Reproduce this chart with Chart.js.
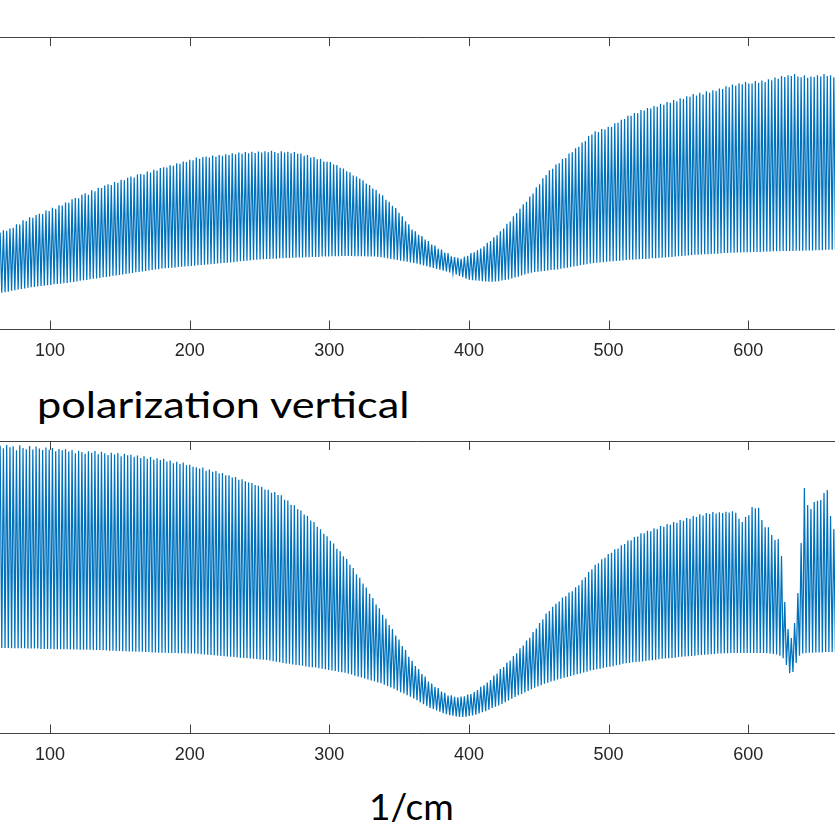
<!DOCTYPE html>
<html>
<head>
<meta charset="utf-8">
<script src="https://cdn.jsdelivr.net/npm/chart.js@4.4.1/dist/chart.umd.min.js"></script>
<style>
  html, body { margin: 0; padding: 0; background: #fff; width: 835px; height: 823px; overflow: hidden; }
  body { position: relative; }
  canvas { position: absolute; left: 0; }
  #c1 { top: 0; }
  #c2 { top: 420px; }
  .lbl { position: absolute; font-family: Lato, "Open Sans", sans-serif; color: #000; white-space: nowrap; margin: 0; padding: 0; transform-origin: 0 0; }
</style>
</head>
<body>
<canvas id="c1" width="835" height="372"></canvas>
<div id="title" class="lbl">polarization vertical</div>
<canvas id="c2" width="835" height="356"></canvas>
<div id="xlabel" class="lbl">1/cm</div>
<script>
// ---- data (wavenumber axis in 1/cm, intensity in arbitrary units 0..100) ----
const xAxisMin = 64.2;
const xAxisMax = 662.1;
const xTickValues = [100, 200, 300, 400, 500, 600];
const firstFringe = 64.3;      // wavenumber of first fringe maximum
const fringeSpacing = 2.341;   // fringe period (1/cm)

// upper panel: fringe maxima and minima
const topPeaks = [
  33.0, 33.8, 33.6, 34.4, 34.7, 35.9, 35.8, 37.2, 37.0, 38.3,
  38.1, 39.0, 39.5, 39.4, 40.6, 40.4, 41.5, 41.2, 42.4, 42.3,
  43.3, 43.2, 44.4, 44.9, 44.8, 46.0, 46.5, 46.0, 47.5, 47.2,
  48.4, 48.3, 49.1, 49.6, 49.3, 50.3, 50.1, 51.1, 50.9, 51.8,
  52.2, 51.9, 52.9, 53.1, 52.9, 53.9, 53.6, 54.5, 54.3, 55.1,
  55.4, 55.3, 56.1, 55.9, 56.8, 56.6, 57.4, 57.2, 58.0, 57.8,
  58.7, 58.3, 58.9, 59.1, 58.7, 59.4, 59.0, 59.6, 59.3, 59.8,
  59.6, 60.2, 59.8, 60.4, 60.0, 60.6, 60.2, 60.7, 60.3, 60.8,
  60.4, 60.9, 60.5, 61.0, 60.6, 60.3, 60.9, 60.4, 60.7, 60.2,
  60.6, 60.0, 60.1, 59.3, 59.6, 58.7, 58.9, 58.1, 58.3, 57.4,
  57.3, 57.2, 56.3, 56.2, 55.2, 55.0, 54.0, 53.7, 52.6, 52.2,
  51.5, 50.9, 49.8, 49.3, 48.1, 47.6, 46.3, 45.8, 44.3, 43.6,
  42.2, 41.4, 39.8, 38.6, 36.9, 35.9, 34.1, 33.5, 32.3, 31.8,
  30.6, 30.1, 28.9, 28.6, 27.5, 27.2, 26.2, 26.0, 24.9, 24.6,
  24.4, 24.0, 24.7, 25.1, 26.0, 26.3, 27.0, 27.6, 28.3, 29.5,
  30.1, 31.4, 32.1, 33.5, 34.4, 36.0, 36.8, 38.6, 39.7, 41.2,
  42.7, 43.6, 45.4, 46.4, 48.5, 49.6, 51.6, 52.7, 54.4, 54.9,
  56.3, 56.8, 58.2, 58.6, 60.1, 60.5, 61.9, 62.4, 63.9, 64.4,
  66.1, 66.6, 67.7, 67.5, 68.5, 68.3, 69.3, 69.2, 70.5, 70.6,
  71.7, 71.9, 73.0, 73.0, 74.0, 73.9, 75.0, 74.8, 75.7, 75.5,
  76.4, 76.1, 77.1, 76.8, 77.7, 77.5, 78.4, 78.0, 79.0, 78.8,
  79.7, 79.5, 80.5, 80.0, 80.9, 80.3, 81.4, 80.9, 81.8, 81.5,
  82.4, 82.2, 83.1, 82.8, 83.7, 83.3, 84.2, 83.8, 84.6, 84.1,
  84.1, 84.9, 84.3, 85.1, 84.6, 85.5, 85.2, 86.1, 85.7, 86.6,
  86.3, 86.9, 86.6, 87.3, 86.5, 86.2, 86.9, 86.0, 86.5, 86.3,
  86.9, 86.5, 87.3, 86.6, 86.9, 86.2
];
const topTroughs = [
  12.4, 12.6, 12.8, 13.1, 13.3, 13.5, 13.7, 13.9, 14.1, 14.3,
  14.4, 14.6, 14.7, 14.8, 15.0, 15.1, 15.3, 15.4, 15.5, 15.7,
  15.8, 16.0, 16.1, 16.3, 16.5, 16.7, 16.8, 17.0, 17.2, 17.3,
  17.5, 17.7, 17.8, 18.0, 18.2, 18.3, 18.5, 18.7, 18.8, 19.0,
  19.2, 19.4, 19.5, 19.7, 19.9, 20.0, 20.2, 20.4, 20.5, 20.7,
  20.8, 20.9, 21.0, 21.1, 21.2, 21.3, 21.4, 21.5, 21.6, 21.7,
  21.8, 21.9, 22.0, 22.1, 22.2, 22.3, 22.4, 22.5, 22.6, 22.7,
  22.8, 22.9, 23.0, 23.2, 23.3, 23.4, 23.5, 23.6, 23.7, 23.8,
  23.9, 24.0, 24.0, 24.1, 24.1, 24.2, 24.2, 24.3, 24.3, 24.4,
  24.4, 24.5, 24.5, 24.6, 24.6, 24.7, 24.7, 24.7, 24.8, 24.8,
  24.8, 24.9, 24.9, 24.9, 25.0, 25.0, 25.0, 25.0, 24.9, 24.9,
  24.9, 24.9, 24.8, 24.8, 24.8, 24.7, 24.6, 24.4, 24.2, 24.0,
  23.8, 23.6, 23.4, 23.2, 23.0, 22.8, 22.6, 22.4, 22.1, 21.8,
  21.5, 21.2, 20.9, 20.6, 20.3, 20.0, 19.7, 19.4, 19.2, 18.7,
  18.2, 17.7, 17.2, 16.9, 16.7, 16.6, 16.5, 16.4, 16.3, 16.2,
  16.2, 16.3, 16.4, 16.6, 16.8, 17.0, 17.3, 17.6, 17.9, 18.3,
  18.7, 19.0, 19.3, 19.5, 19.6, 19.8, 19.9, 20.0, 20.2, 20.3,
  20.4, 20.6, 20.8, 21.0, 21.2, 21.4, 21.6, 21.8, 22.0, 22.2,
  22.4, 22.6, 22.7, 22.8, 22.9, 23.0, 23.1, 23.2, 23.3, 23.4,
  23.5, 23.6, 23.7, 23.7, 23.8, 23.9, 24.0, 24.0, 24.1, 24.2,
  24.2, 24.3, 24.4, 24.5, 24.6, 24.7, 24.8, 24.9, 25.0, 25.1,
  25.2, 25.3, 25.4, 25.4, 25.5, 25.6, 25.6, 25.7, 25.8, 25.8,
  25.9, 26.0, 26.0, 26.1, 26.1, 26.2, 26.2, 26.3, 26.3, 26.3,
  26.4, 26.4, 26.4, 26.5, 26.5, 26.5, 26.6, 26.6, 26.6, 26.7,
  26.7, 26.7, 26.7, 26.8, 26.8, 26.8, 26.9, 26.9, 26.9, 27.0,
  27.0, 27.0, 27.1, 27.1, 27.1, 27.2
];

// lower panel ("polarization vertical"): fringe maxima and minima
const bottomPeaks = [
  98.4, 97.5, 98.6, 97.9, 98.2, 96.8, 98.5, 97.6, 97.2, 98.3,
  97.1, 98.1, 97.4, 96.9, 97.8, 97.0, 97.6, 96.5, 97.3, 96.8,
  97.2, 96.4, 96.9, 95.8, 96.7, 96.2, 95.6, 96.5, 96.0, 96.6,
  95.5, 96.3, 95.8, 95.2, 96.0, 95.4, 95.9, 94.8, 95.6, 95.1,
  95.3, 94.6, 95.0, 94.2, 94.8, 93.9, 94.5, 93.6, 94.1, 93.5,
  93.9, 93.0, 93.3, 92.4, 92.9, 92.1, 92.6, 91.7, 91.9, 91.2,
  91.0, 90.6, 90.9, 89.8, 90.2, 89.5, 89.7, 88.9, 89.0, 88.3,
  88.3, 87.5, 87.7, 86.7, 86.9, 86.2, 85.8, 85.6, 84.9, 84.7,
  84.3, 83.4, 83.3, 82.3, 82.5, 81.5, 81.4, 79.9, 79.6, 78.2,
  78.0, 76.6, 76.2, 74.8, 74.3, 72.8, 72.3, 70.6, 69.8, 68.2,
  67.4, 65.8, 64.9, 63.1, 62.2, 60.5, 59.6, 57.6, 56.5, 54.4,
  53.2, 51.2, 49.8, 47.7, 46.2, 44.0, 42.7, 40.5, 39.1, 37.0,
  35.6, 33.4, 32.0, 29.8, 28.4, 26.1, 24.7, 22.9, 21.9, 20.2,
  19.3, 17.6, 16.9, 15.7, 15.4, 14.2, 13.8, 12.8, 12.9, 12.4,
  12.2, 12.5, 12.6, 13.2, 13.3, 14.1, 14.7, 15.8, 16.3, 17.3,
  18.1, 19.7, 20.4, 21.9, 22.6, 24.1, 24.8, 26.4, 27.3, 29.0,
  30.0, 31.7, 32.6, 34.6, 35.8, 37.7, 38.9, 40.9, 41.8, 43.2,
  44.3, 45.0, 46.4, 46.8, 48.1, 48.5, 49.9, 50.6, 52.4, 53.3,
  55.1, 56.1, 57.6, 58.1, 59.5, 60.0, 61.3, 61.7, 62.9, 63.2,
  64.3, 64.7, 65.9, 66.0, 67.1, 67.3, 68.4, 68.4, 69.3, 69.1,
  70.1, 69.9, 70.9, 70.6, 71.6, 71.3, 72.3, 72.0, 72.9, 72.7,
  73.6, 73.4, 74.3, 74.0, 74.9, 74.5, 75.3, 75.0, 75.7, 75.2,
  75.6, 75.3, 75.8, 75.5, 75.9, 75.4, 73.4, 72.3, 74.0, 74.6,
  77.4, 77.0, 77.1, 72.9, 70.5, 70.5, 67.8, 66.1, 66.4, 60.6,
  44.9, 35.6, 32.5, 37.7, 47.9, 65.1, 83.9, 78.1, 76.7, 79.1,
  79.5, 79.8, 82.2, 83.2, 74.3, 69.9
];
const bottomTroughs = [
  29.1, 29.1, 29.1, 29.0, 29.0, 29.0, 29.0, 29.0, 28.9, 28.9,
  28.9, 28.9, 28.8, 28.8, 28.8, 28.8, 28.7, 28.7, 28.7, 28.7,
  28.7, 28.6, 28.6, 28.6, 28.5, 28.5, 28.5, 28.5, 28.4, 28.4,
  28.4, 28.3, 28.3, 28.2, 28.2, 28.1, 28.1, 28.0, 28.0, 27.9,
  27.9, 27.8, 27.8, 27.8, 27.7, 27.7, 27.6, 27.6, 27.5, 27.5,
  27.5, 27.4, 27.4, 27.4, 27.3, 27.3, 27.3, 27.2, 27.2, 27.2,
  27.1, 27.0, 26.9, 26.8, 26.7, 26.6, 26.5, 26.4, 26.3, 26.2,
  26.1, 26.0, 25.9, 25.8, 25.7, 25.6, 25.5, 25.4, 25.3, 25.2,
  25.1, 25.0, 24.8, 24.6, 24.4, 24.2, 24.0, 23.8, 23.7, 23.5,
  23.3, 23.2, 23.0, 22.8, 22.6, 22.5, 22.4, 22.2, 22.0, 21.8,
  21.6, 21.4, 21.2, 21.0, 20.8, 20.6, 20.3, 20.0, 19.6, 19.3,
  19.0, 18.7, 18.3, 18.0, 17.7, 17.3, 17.0, 16.5, 16.1, 15.6,
  15.2, 14.6, 14.0, 13.5, 12.9, 12.4, 11.8, 11.2, 10.5, 9.9,
  9.3, 8.6, 8.2, 7.7, 7.3, 6.8, 6.4, 6.1, 5.9, 5.7,
  5.5, 5.5, 5.6, 5.8, 6.0, 6.3, 6.7, 7.1, 7.5, 8.0,
  8.6, 9.0, 9.4, 9.9, 10.5, 11.1, 11.7, 12.3, 12.9, 13.4,
  13.9, 14.4, 15.0, 15.5, 15.9, 16.4, 16.9, 17.2, 17.6, 17.9,
  18.3, 18.6, 18.9, 19.2, 19.5, 19.8, 20.1, 20.4, 20.7, 21.0,
  21.4, 21.6, 21.8, 22.0, 22.3, 22.5, 22.7, 22.9, 23.2, 23.4,
  23.7, 23.9, 24.0, 24.2, 24.3, 24.4, 24.5, 24.7, 24.8, 24.9,
  25.1, 25.3, 25.4, 25.5, 25.6, 25.7, 25.8, 26.0, 26.1, 26.2,
  26.3, 26.4, 26.5, 26.6, 26.7, 26.8, 26.9, 27.0, 27.1, 27.2,
  27.2, 27.3, 27.3, 27.4, 27.4, 27.4, 27.4, 27.4, 27.4, 27.4,
  27.4, 27.4, 27.4, 27.4, 27.3, 27.2, 27.1, 26.9, 26.5, 25.6,
  23.3, 20.5, 20.9, 24.0, 26.5, 27.2, 27.4, 27.5, 27.5, 27.6,
  27.6, 27.6, 27.7, 27.7, 27.7, 27.7
];

// ---- build the spectrum traces (max, min, max, min ...) ----
function buildTrace(peaks, troughs) {
  const pts = [];
  for (let k = 0; k < peaks.length; k++) {
    pts.push({ x: firstFringe + k * fringeSpacing, y: peaks[k] });
    pts.push({ x: firstFringe + (k + 0.5) * fringeSpacing, y: troughs[k] });
  }
  return pts;
}

const AXIS_COLOR = '#404040';
const frame = {
  id: 'matlabFrame',
  afterDraw(chart) {
    const { ctx, chartArea: a, scales } = chart;
    const x = scales.x;
    ctx.save();
    ctx.strokeStyle = AXIS_COLOR;
    ctx.lineWidth = 1;
    ctx.beginPath();
    ctx.moveTo(a.left, a.top + 0.5); ctx.lineTo(a.right, a.top + 0.5);
    ctx.moveTo(a.left, a.bottom + 0.5); ctx.lineTo(a.right, a.bottom + 0.5);
    x.ticks.forEach(t => {
      const px = Math.round(x.getPixelForValue(t.value)) + 0.5;
      ctx.moveTo(px, a.top); ctx.lineTo(px, a.top + 9);
      ctx.moveTo(px, a.bottom + 0.5); ctx.lineTo(px, a.bottom - 8.5);
    });
    ctx.stroke();
    ctx.restore();
  }
};

function makeChart(id, peaks, troughs, padTop) {
  return new Chart(document.getElementById(id), {
    type: 'line',
    data: {
      datasets: [{
        data: buildTrace(peaks, troughs),
        borderColor: '#0072BD',
        borderWidth: 1.25,
        pointRadius: 0,
        tension: 0,
        fill: false
      }]
    },
    options: {
      responsive: false,
      animation: false,
      devicePixelRatio: 1,
      events: [],
      layout: { padding: { top: padTop, left: 0, right: 0, bottom: 0 } },
      plugins: { legend: { display: false }, tooltip: { enabled: false }, title: { display: false } },
      scales: {
        x: {
          type: 'linear',
          min: xAxisMin,
          max: xAxisMax,
          afterBuildTicks: s => { s.ticks = xTickValues.map(v => ({ value: v })); },
          afterFit: s => { s.height = 43; },
          grid: { display: false, drawTicks: false },
          border: { display: false },
          ticks: {
            padding: 11,
            color: '#262626',
            maxRotation: 0,
            autoSkip: false,
            font: { family: '"Liberation Sans", Arial, Helvetica, sans-serif', size: 18 },
            callback: v => String(v)
          }
        },
        y: { min: 0, max: 100, display: false }
      }
    },
    plugins: [frame]
  });
}

makeChart('c1', topPeaks, topTroughs, 37);
makeChart('c2', bottomPeaks, bottomTroughs, 21);

// ---- text placement (font size from x-height, width fitted with scaleX) ----
(function placeTexts() {
  const fam = 'Lato, "Open Sans", sans-serif';
  const size = 37.5;
  const m = document.createElement('canvas').getContext('2d');
  m.font = size + 'px ' + fam;
  function place(el, text, inkWidth, inkLeft, inkCenter, baseline) {
    const t = m.measureText(text);
    const A = t.fontBoundingBoxAscent, D = t.fontBoundingBoxDescent;
    const lineH = Math.ceil(A + D);
    const natInk = t.actualBoundingBoxLeft + t.actualBoundingBoxRight;
    const sx = inkWidth / natInk;
    el.style.fontSize = size + 'px';
    el.style.lineHeight = lineH + 'px';
    el.style.transform = 'scaleX(' + sx + ')';
    const baseOff = (lineH - (A + D)) / 2 + A;
    el.style.top = (baseline - baseOff) + 'px';
    let left;
    if (inkCenter != null) {
      left = inkCenter - sx * (t.actualBoundingBoxRight - t.actualBoundingBoxLeft) / 2;
    } else {
      left = inkLeft + sx * t.actualBoundingBoxLeft;
    }
    el.style.left = left + 'px';
  }
  place(document.getElementById('title'), 'polarization vertical', 369, 39.3, null, 418.3);
  place(document.getElementById('xlabel'), '1/cm', 80, null, 411.7, 820);
})();
</script>
</body>
</html>
